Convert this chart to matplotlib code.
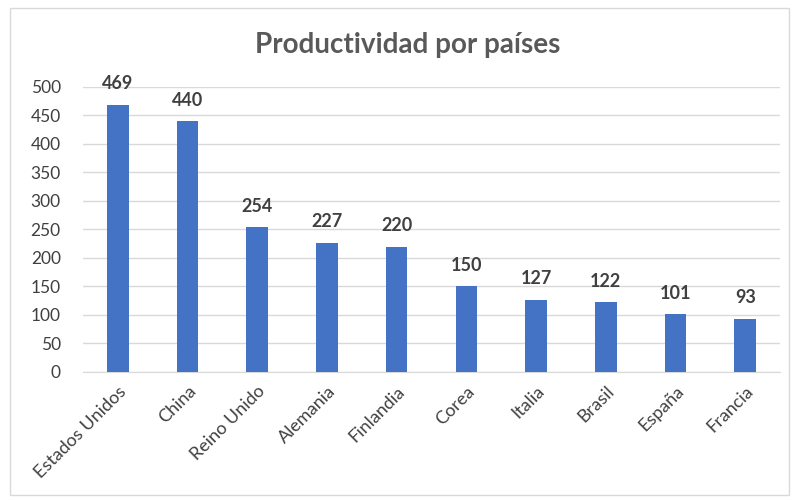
import matplotlib.pyplot as plt
from matplotlib.patches import Rectangle

paises = ['Estados Unidos', 'China', 'Reino Unido', 'Alemania', 'Finlandia',
          'Corea', 'Italia', 'Brasil', 'España', 'Francia']
productividad = [469, 440, 254, 227, 220, 150, 127, 122, 101, 93]
yticks = [0, 50, 100, 150, 200, 250, 300, 350, 400, 450, 500]

plt.rcParams['font.family'] = ['Lato', 'DejaVu Sans']

fig = plt.figure(figsize=(7.94, 5.01), dpi=100)
fig.patches.append(Rectangle((0.012, 0.012), 0.982, 0.972, transform=fig.transFigure,
                             fill=False, edgecolor='#d9d9d9', linewidth=1))
ax = fig.add_axes([0.1045, 0.2575, 0.878, 0.569])

x = range(len(paises))
bars = ax.bar(x, productividad, width=0.31, color='#4472c4', zorder=3)
for i, v in enumerate(productividad):
    ax.text(i, v + 22, str(v), ha='center', va='bottom', fontsize=13,
            fontweight='bold', color='#404040')

ax.set_xlim(-0.5, len(paises) - 0.5)
ax.set_ylim(0, 500)
ax.set_yticks(yticks)
ax.set_yticklabels([str(t) for t in yticks], fontsize=12.5, color='#404040')
ax.set_xticks(list(x))
ax.set_xticklabels(paises, rotation=45, ha='right', rotation_mode='anchor',
                   fontsize=13, color='#404040')
ax.tick_params(axis='y', length=0, pad=16)
ax.tick_params(axis='x', length=0, pad=8)
ax.grid(axis='y', color='#d9d9d9', linewidth=1, zorder=0)
for s in ['top', 'right', 'left']:
    ax.spines[s].set_visible(False)
ax.spines['bottom'].set_color('#d9d9d9')

fig.text(0.514, 0.91, 'Productividad por países', ha='center', va='center',
         fontsize=20, fontweight='bold', color='#595959')

fig.savefig('out.png', dpi=100)
